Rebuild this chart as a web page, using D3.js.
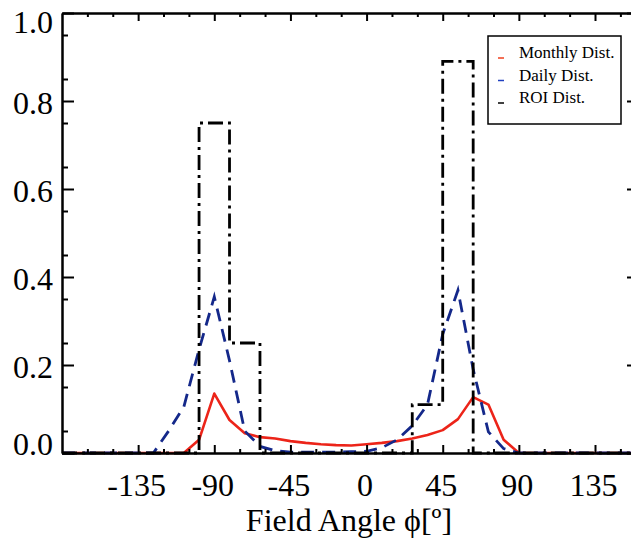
<!DOCTYPE html>
<html>
<head>
<meta charset="utf-8">
<script src="https://cdn.jsdelivr.net/npm/d3@7"></script>
<style>
  body { margin: 0; background: #fff; }
  svg { display: block; }
</style>
</head>
<body>
<svg id="chart"></svg>
<script>
// field angle grid (deg) and the three distributions
const monthlyAngles = [-180, -108, -99, -90, -81, -72, -63, -54, -45, -36, -27, -18, -9, 0, 9, 18, 27, 36, 45, 54, 63, 72, 81, 90, 161]
const monthlyValues = [0, 0, 0.03, 0.135, 0.075, 0.045, 0.036, 0.033, 0.027, 0.023, 0.02, 0.018, 0.017, 0.02, 0.023, 0.027, 0.033, 0.041, 0.052, 0.077, 0.127, 0.11, 0.03, 0, 0]

const dailyAngles = [-180, -126, -117, -108, -99, -90, -81, -72, -63, -54, -45, -36, -27, -18, -9, 0, 9, 18, 27, 36, 45, 54, 63, 72, 81, 90, 161]
const dailyValues = [0, 0, 0.05, 0.105, 0.235, 0.355, 0.21, 0.05, 0.015, 0.005, 0.002, 0.002, 0.002, 0.002, 0.003, 0.004, 0.012, 0.03, 0.062, 0.11, 0.27, 0.37, 0.19, 0.048, 0.01, 0, 0]

// ROI histogram: bin centres (18 deg wide bins) and heights
const roiCenters = [-90, -72, 36, 54]
const roiValues = [0.75, 0.25, 0.11, 0.89]
const roiBinWidth = 18

const seriesNames = ["Monthly Dist.", "Daily Dist.", "ROI Dist."]
const xTickLabels = [-135, -90, -45, 0, 45, 90, 135]
const yTickLabels = [0, 0.2, 0.4, 0.6, 0.8, 1.0]

let width = 631
let height = 543
let font = "'Liberation Serif', 'Times New Roman', serif"

const x = d3.scaleLinear().domain([-180, 161]).range([62, 639])
const y = d3.scaleLinear().domain([0, 1]).range([453, 13])

const svg = d3.select("#chart")
    .attr("width", width)
    .attr("height", height)
    .attr("font-family", font);

// build the step outline of the ROI histogram
let roiPts = [[-180, 0]]
roiCenters.forEach((c, i) => {
  let left = c - roiBinWidth / 2
  let prev = roiPts[roiPts.length - 1]
  if (prev[0] < left) roiPts.push([left, 0])
  roiPts[roiPts.length - 1] = [left, roiValues[i]]
  roiPts.push([c + roiBinWidth / 2, 0])
})
roiPts.push([161, 0])

const lineXY = d3.line().x(d => x(d[0])).y(d => y(d[1]))
const stepLine = d3.line().x(d => x(d[0])).y(d => y(d[1])).curve(d3.curveStepAfter)

const plot = svg.append("g").attr("fill", "none")

plot.append("path")
    .attr("d", lineXY(monthlyAngles.map((a, i) => [a, monthlyValues[i]])))
    .attr("stroke", "#ec2419")
    .attr("stroke-width", 2.6)
    .attr("stroke-linejoin", "round");

plot.append("path")
    .attr("d", lineXY(dailyAngles.map((a, i) => [a, dailyValues[i]])))
    .attr("stroke", "#14288a")
    .attr("stroke-width", 2.8)
    .attr("stroke-dasharray", "13,8");

plot.append("path")
    .attr("d", stepLine(roiPts))
    .attr("stroke", "#000")
    .attr("stroke-width", 2.8)
    .attr("stroke-dasharray", "15,5,3,5");

// axes: ticks all point inward
function styleAxis(g) {
  g.selectAll("path, line").attr("stroke", "#000").attr("stroke-width", 2)
  g.selectAll("text").attr("fill", "#000").attr("font-family", font)
}

const xMinor = d3.range(-165, 161, 15).filter(v => v % 45 !== 0)
const yMinor = d3.range(0.05, 1, 0.1)

// bottom
svg.append("g")
    .attr("transform", `translate(0,${y(0)})`)
    .call(d3.axisBottom(x).tickValues(xMinor).tickSize(-4).tickSizeOuter(0).tickFormat(""))
    .call(styleAxis);
svg.append("g")
    .attr("transform", `translate(0,${y(0)})`)
    .call(d3.axisBottom(x).tickValues(xTickLabels).tickSize(-8).tickSizeOuter(0).tickPadding(20).tickFormat(d => String(d)))
    .call(styleAxis)
    .call(g => g.selectAll("text").attr("font-size", 32).attr("dx", -2));

// top
svg.append("g")
    .attr("transform", `translate(0,${y(1)})`)
    .call(d3.axisTop(x).tickValues(xMinor).tickSize(-4).tickSizeOuter(0).tickFormat(""))
    .call(styleAxis);
svg.append("g")
    .attr("transform", `translate(0,${y(1)})`)
    .call(d3.axisTop(x).tickValues(xTickLabels).tickSize(-8).tickSizeOuter(0).tickFormat(""))
    .call(styleAxis);

// left
svg.append("g")
    .attr("transform", `translate(${x(-180)},0)`)
    .call(d3.axisLeft(y).tickValues(yMinor).tickSize(-6).tickSizeOuter(0).tickFormat(""))
    .call(styleAxis);
svg.append("g")
    .attr("transform", `translate(${x(-180)},0)`)
    .call(d3.axisLeft(y).tickValues(yTickLabels).tickSize(-12).tickSizeOuter(0).tickPadding(9).tickFormat(d3.format(".1f")))
    .call(styleAxis)
    .call(g => g.selectAll("text")
        .attr("font-size", 32)
        .attr("dy", d => d === 1 ? "0.6em" : d === 0 ? "0.04em" : "0.38em"));

// right
svg.append("g")
    .attr("transform", `translate(${x(161)},0)`)
    .call(d3.axisRight(y).tickValues(yMinor).tickSize(-6).tickSizeOuter(0).tickFormat(""))
    .call(styleAxis);
svg.append("g")
    .attr("transform", `translate(${x(161)},0)`)
    .call(d3.axisRight(y).tickValues(yTickLabels).tickSize(-12).tickSizeOuter(0).tickFormat(""))
    .call(styleAxis);

// x axis title
svg.append("text")
    .attr("x", 349)
    .attr("y", 531)
    .attr("text-anchor", "middle")
    .attr("font-size", 32)
    .attr("fill", "#000")
    .text("Field Angle \u03D5[\u00BA]");

// legend
const legend = svg.append("g").attr("transform", "translate(488,36)")
legend.append("rect")
    .attr("width", 133)
    .attr("height", 88)
    .attr("fill", "#fff")
    .attr("stroke", "#000")
    .attr("stroke-width", 1.5);

const legendColors = ["#f0401e", "#2040c0", "#000"]
const item = legend.selectAll("g.item")
  .data(seriesNames)
  .join("g")
    .attr("class", "item")
    .attr("transform", (d, i) => `translate(0,${22 + i * 22.5})`);

item.append("line")
    .attr("x1", 10).attr("x2", 16)
    .attr("y1", 0).attr("y2", 0)
    .attr("stroke", (d, i) => legendColors[i])
    .attr("stroke-width", 1.5);

item.append("text")
    .attr("x", 31)
    .attr("y", 0)
    .attr("font-size", 17)
    .attr("fill", "#000")
    .text(d => d);
</script>
</body>
</html>
